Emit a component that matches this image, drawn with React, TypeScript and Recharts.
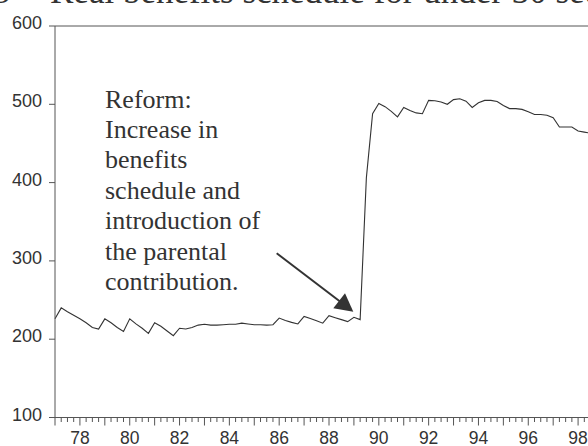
import { LineChart, Line, XAxis, YAxis, ReferenceLine } from "recharts";

// quarterly series, 1977Q1 onwards
const startYear = 1977;
const benefits = [
  226, 240, 235, 230.5, 226, 221, 215, 213,
  226, 221, 215, 210, 226, 219.5, 214, 207.5,
  221, 216.5, 210.5, 204.5, 214, 213, 215, 218,
  219, 218, 218, 218.5, 219, 219, 220.5, 219.5,
  218.5, 218.5, 218, 218.5, 227, 224, 221.5, 219.5,
  229, 226.5, 223.5, 220.5, 230, 227.5, 225, 222.5,
  228, 225, 406, 488, 501, 497, 491, 484,
  496, 492, 489, 488, 505, 504.5, 503, 500,
  506, 507, 504, 496, 502, 505, 505, 503.5,
  498.5, 494.5, 494.5, 493.5, 490.5, 487, 487, 486,
  483, 471, 471, 471, 466, 464.5, 463,
];

const labelYears = [1978, 1980, 1982, 1984, 1986, 1988, 1990, 1992, 1994, 1996, 1998];
const yTicks = [100, 200, 300, 400, 500, 600];
const xDomain = [1977, 1999];

const titleText = "Real benefits schedule for under 30 seekers";
const noteLines = [
  "Reform:",
  "Increase in",
  "benefits",
  "schedule and",
  "introduction of",
  "the parental",
  "contribution.",
];

const data = benefits.map((v, i) => ({ t: startYear + i / 4, v }));
const quarterTicks = Array.from(
  { length: (xDomain[1] - xDomain[0]) * 4 + 1 },
  (_, i) => xDomain[0] + i / 4
);

const axisColor = "#555";
const inkColor = "#333";
const sans = "'Liberation Sans', Arial, sans-serif";
const serif = "'Liberation Serif', 'Times New Roman', serif";

function XTick(props: any) {
  const { x, y, payload } = props;
  const t = payload.value as number;
  const yr = Math.round(t);
  const isYear = Math.abs(t - yr) < 1e-6;
  const showLabel = isYear && labelYears.includes(yr);
  return (
    <g>
      <line x1={x} x2={x} y1={y} y2={y + (isYear ? 8 : 4.5)} stroke={axisColor} strokeWidth={1} />
      {showLabel && (
        <text x={x} y={y + 26} textAnchor="middle" fontFamily={sans} fontSize={17.5} fill={inkColor}>
          {String(yr).slice(2)}
        </text>
      )}
    </g>
  );
}

function YTick(props: any) {
  const { x, y, payload } = props;
  return (
    <g>
      <line x1={x - 6} x2={x} y1={y} y2={y} stroke={axisColor} strokeWidth={1} />
      <text x={x - 13} y={y + 3} textAnchor="end" fontFamily={sans} fontSize={18} fill={inkColor}>
        {payload.value}
      </text>
    </g>
  );
}

export default function App() {
  return (
    <div style={{ position: "absolute", left: 0, top: 0, width: 588, height: 446, overflow: "hidden", background: "#fff" }}>
      <LineChart width={608} height={446} data={data} margin={{ top: 26, right: 5, left: 0, bottom: 0 }}>
        <XAxis
          dataKey="t"
          type="number"
          domain={xDomain}
          ticks={quarterTicks}
          interval={0}
          height={28.5}
          tickSize={0}
          tickMargin={0}
          tickLine={false}
          axisLine={{ stroke: axisColor }}
          tick={<XTick />}
        />
        <YAxis
          type="number"
          domain={[100, 600]}
          ticks={yTicks}
          width={55}
          tickSize={0}
          tickMargin={0}
          tickLine={false}
          axisLine={{ stroke: axisColor }}
          tick={<YTick />}
        />
        <ReferenceLine y={600} stroke={axisColor} strokeWidth={1} />
        <Line
          type="linear"
          dataKey="v"
          stroke={inkColor}
          strokeWidth={1.1}
          dot={false}
          isAnimationActive={false}
        />
      </LineChart>
      <svg
        width={588}
        height={446}
        style={{ position: "absolute", left: 0, top: 0, pointerEvents: "none" }}
      >
        <text x={10} y={3} textAnchor="end" fontFamily={serif} fontSize={34} fill={inkColor}>
          Figure 3
        </text>
        <text x={50} y={3} fontFamily={serif} fontSize={35} fill={inkColor}>
          {titleText}
        </text>
        {noteLines.map((line, i) => (
          <text key={line} x={105} y={107.5 + i * 30.4} fontFamily={serif} fontSize={26} fill={inkColor}>
            {line}
          </text>
        ))}
        <line x1={276.7} y1={253.3} x2={340} y2={301.5} stroke={inkColor} strokeWidth={2} />
        <polygon points="353.3,311.7 333.3,308.3 345,293.3" fill={inkColor} />
      </svg>
    </div>
  );
}
